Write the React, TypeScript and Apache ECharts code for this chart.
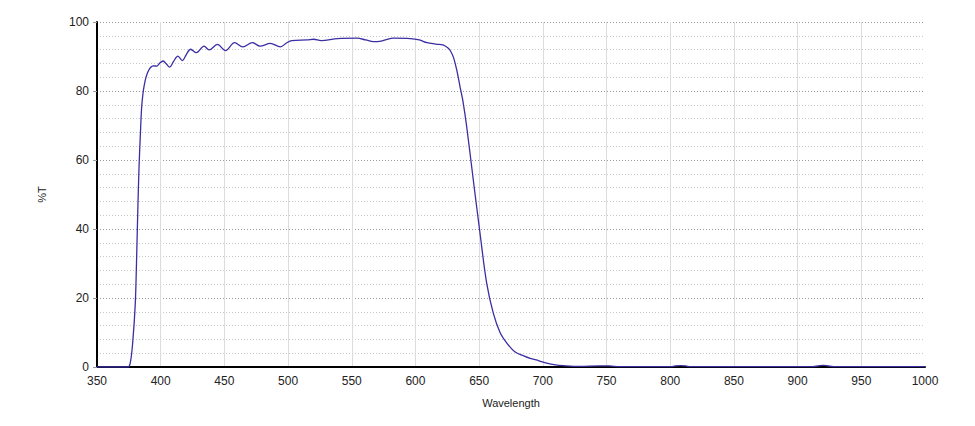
import React, { useEffect, useRef } from "react";
import * as echarts from "echarts";

const wavelengths = [
  350, 370, 374, 376, 378, 380, 381, 382, 383, 384, 385, 386, 387, 388.5, 390, 392, 394, 397, 399, 402,
  404.5, 407, 410, 413.5, 417, 420, 423.5, 428, 434, 438, 444.5, 451, 458, 464.5, 472, 478, 486, 494,
  499, 503, 515, 520, 526, 539, 554, 561, 567, 572, 582.5, 596, 603, 609, 616, 622, 625.8, 627.5,
  629.7, 632.4, 635, 637.1, 640.2, 645.4, 650.7, 655.9, 661.1, 666.4, 671.6, 678, 685, 690, 697, 703,
  710, 716, 729, 745, 752, 760, 800, 804, 808, 812, 816, 912, 916, 920, 924, 928, 1000,
];
const transmission = [
  0, 0, 0, 1, 7, 18, 30, 45, 58, 67, 75, 79, 81.5, 84, 85.6, 86.8, 87.3, 87.2, 88, 88.7,
  87.8, 86.9, 88.5, 90.1, 88.8, 90.5, 92.1, 91.1, 93, 91.9, 93.5, 91.7, 94, 92.8, 94, 93, 93.8, 92.8,
  94, 94.6, 94.8, 95, 94.6, 95.2, 95.3, 94.8, 94.3, 94.4, 95.3, 95.2, 94.8, 94, 93.6, 93.3, 92.4, 91.6,
  89.9, 86.1, 81.2, 77.4, 69.7, 54.2, 38.7, 24.3, 15.6, 10, 7, 4.4, 3.2, 2.5, 1.8, 1.1,
  0.6, 0.4, 0.2, 0.3, 0.3, 0.1, 0.1, 0.3, 0.4, 0.3, 0.1, 0.1, 0.3, 0.5, 0.3, 0.1, 0.1,
];

const xTicks = { min: 350, max: 1000, interval: 50 };
const yTicks = { min: 0, max: 100, interval: 20 };

export default function App() {
  const ref = useRef<HTMLDivElement>(null);
  useEffect(() => {
    if (!ref.current) return;
    const chart = echarts.init(ref.current, undefined, { renderer: "svg" });
    const font = "Arial, 'Liberation Sans', sans-serif";
    chart.setOption({
      animation: false,
      backgroundColor: "#ffffff",
      grid: { left: 97, right: 50, top: 22, bottom: 59, containLabel: false },
      xAxis: {
        type: "value",
        min: xTicks.min,
        max: xTicks.max,
        interval: xTicks.interval,
        name: "Wavelength",
        nameLocation: "middle",
        nameGap: 30,
        nameTextStyle: { color: "#222", fontSize: 11, fontFamily: font },
        axisLine: { show: true, onZero: false, lineStyle: { color: "#000", width: 2 } },
        axisTick: { show: false },
        axisLabel: { color: "#222", fontSize: 12, fontFamily: font, margin: 8, formatter: (v: number) => String(v) },
        splitLine: { show: true, showMaxLine: false, lineStyle: { color: "#dcdcdc", width: 1, type: "solid" } },
      },
      yAxis: {
        type: "value",
        min: yTicks.min,
        max: yTicks.max,
        interval: yTicks.interval,
        name: "%T",
        nameLocation: "middle",
        nameGap: 50,
        nameRotate: 90,
        nameTextStyle: { color: "#222", fontSize: 11, fontFamily: font },
        axisLine: { show: true, lineStyle: { color: "#000", width: 2 } },
        axisTick: { show: true, length: 4, lineStyle: { color: "#999" } },
        axisLabel: { color: "#222", fontSize: 12, fontFamily: font, margin: 8, formatter: (v: number) => String(v) },
        splitLine: { show: true, lineStyle: { color: "#999", width: 1, type: [1, 2] } },
        minorTick: { show: false, splitNumber: 5 },
        minorSplitLine: { show: true, lineStyle: { color: "#c8c8c8", width: 1, type: [1, 2] } },
      },
      series: [
        {
          type: "line",
          data: wavelengths.map((w, i) => [w, transmission[i]]),
          showSymbol: false,
          smooth: 0.35,
          lineStyle: { color: "#3a2ea3", width: 1.3 },
          z: 3,
        },
      ],
    });
    return () => chart.dispose();
  }, []);
  return (
    <div
      ref={ref}
      style={{ position: "fixed", left: 0, top: 0, width: 975, height: 426, background: "#fff" }}
    />
  );
}
